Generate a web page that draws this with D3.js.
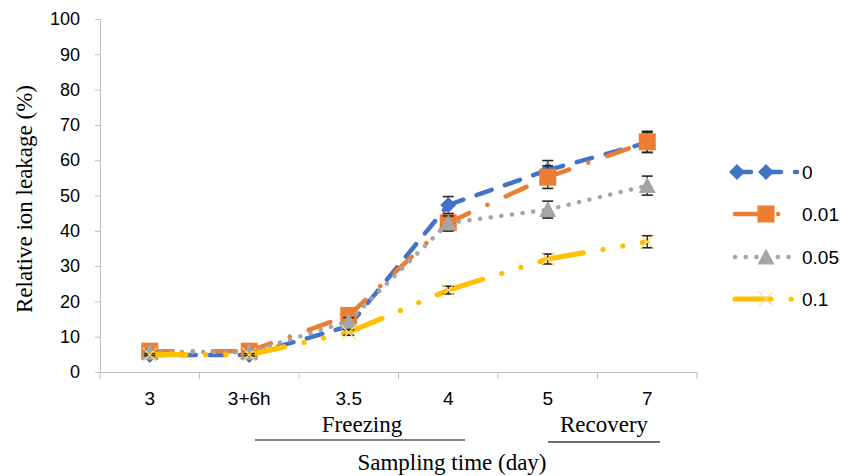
<!DOCTYPE html>
<html><head><meta charset="utf-8">
<script src="https://cdn.jsdelivr.net/npm/d3@7/dist/d3.min.js"></script>
<style>
html,body{margin:0;padding:0;background:#fff;}
svg{display:block;}
</style></head>
<body><svg id="chart" width="856" height="476"></svg>
<script>
// ---- data ----
const categories = ["3", "3+6h", "3.5", "4", "5", "7"];
const seriesNames = ["0", "0.01", "0.05", "0.1"];
const values0   = [4.8, 4.8, 13.0, 47.3, 57.2, 65.0];
const values001 = [5.9, 5.9, 16.0, 42.3, 55.2, 65.2];
const values005 = [5.7, 5.6, 14.4, 42.2, 46.0, 52.8];
const values01  = [4.9, 4.9, 11.2, 23.2, 32.0, 36.9];
const err0   = [0.4, 0.4, 0.8, 2.4, 2.7, 2.8];
const err001 = [0.5, 0.5, 1.0, 2.4, 3.2, 3.0];
const err005 = [0.5, 0.5, 1.0, 2.0, 2.4, 2.7];
const err01  = [0.3, 0.3, 0.8, 1.1, 1.4, 1.7];
const yTicks = [0, 10, 20, 30, 40, 50, 60, 70, 80, 90, 100];

// ---- styles ----
const styles = [
  {color: "#4472C4", width: 4.5, dash: "16,14", marker: "diamond"},
  {color: "#ED7D31", width: 4.5, dash: "23,20,0.1,20", marker: "square"},
  {color: "#A5A5A5", width: 4.5, dash: "0.1,10.6", marker: "triangle"},
  {color: "#FFC000", width: 5.2, dash: "36,20,0.1,20,0.1,20", marker: "x"}
];
const allValues = [values0, values001, values005, values01];
const allErr = [err0, err001, err005, err01];

const svg = d3.select("#chart");
const x = d3.scaleBand().domain(categories).range([100, 697]).padding(0);
const y = d3.scaleLinear().domain([0, 100]).range([372, 19]);
const axisColor = "#BFBFBF";
const sansFont = "'Liberation Sans', Arial, sans-serif";
const serifFont = "'Liberation Serif', 'Times New Roman', serif";

// y axis
const gy = svg.append("g").attr("transform", "translate(100,0)")
  .call(d3.axisLeft(y).tickValues(yTicks).tickSize(5).tickPadding(15).tickSizeOuter(0));
gy.select(".domain").attr("stroke", axisColor);
gy.selectAll(".tick line").attr("stroke", axisColor);
gy.selectAll(".tick text").attr("font-family", sansFont).attr("font-size", 18).attr("fill", "#000");

// x axis
const gx = svg.append("g").attr("transform", "translate(0,372)")
  .call(d3.axisBottom(x).tickSize(0).tickPadding(19.5).tickSizeOuter(0));
gx.select(".domain").attr("stroke", axisColor);
gx.selectAll(".tick text").attr("font-family", sansFont).attr("font-size", 19).attr("fill", "#000");
const boundaries = categories.map(c => x(c)).concat([x.range()[1]]);
svg.append("g").selectAll("line").data(boundaries).join("line")
  .attr("x1", d => d).attr("x2", d => d).attr("y1", 372).attr("y2", 379)
  .attr("stroke", axisColor);

// y title
svg.append("text").attr("transform", "translate(32,199) rotate(-90)")
  .attr("text-anchor", "middle").attr("font-family", serifFont).attr("font-size", 23)
  .text("Relative ion leakage (%)");

// phase labels
svg.append("text").attr("x", 362).attr("y", 432).attr("text-anchor", "middle")
  .attr("font-family", serifFont).attr("font-size", 23).text("Freezing");
svg.append("line").attr("x1", 255).attr("x2", 465).attr("y1", 440).attr("y2", 440)
  .attr("stroke", "#595959").attr("stroke-width", 1.5);
svg.append("text").attr("x", 604).attr("y", 432).attr("text-anchor", "middle")
  .attr("font-family", serifFont).attr("font-size", 23).text("Recovery");
svg.append("line").attr("x1", 548).attr("x2", 660).attr("y1", 442).attr("y2", 442)
  .attr("stroke", "#6f6f6f").attr("stroke-width", 2);
svg.append("text").attr("x", 452).attr("y", 470).attr("text-anchor", "middle")
  .attr("font-family", serifFont).attr("font-size", 23).text("Sampling time (day)");

// marker drawing
function drawMarker(g, type, cx, cy, color) {
  if (type === "diamond") {
    const s = 8;
    g.append("path").attr("d", `M${cx},${cy - s}L${cx + s},${cy}L${cx},${cy + s}L${cx - s},${cy}Z`)
      .attr("fill", color);
  } else if (type === "square") {
    const s = 8.5;
    g.append("rect").attr("x", cx - s).attr("y", cy - s).attr("width", 2 * s).attr("height", 2 * s)
      .attr("fill", color);
  } else if (type === "triangle") {
    const s = 8.5;
    g.append("path").attr("d", `M${cx},${cy - s}L${cx + s},${cy + s - 1}L${cx - s},${cy + s - 1}Z`)
      .attr("fill", color);
  } else if (type === "x") {
    const s = 7;
    g.append("path").attr("d", `M${cx - s},${cy - s}L${cx + s},${cy + s}M${cx - s},${cy + s}L${cx + s},${cy - s}`)
      .attr("stroke", "#FFE08A").attr("stroke-width", 1.2).attr("fill", "none");
  }
}

const line = d3.line().x(d => d[0]).y(d => d[1]);
const plot = svg.append("g");
allValues.forEach((vals, si) => {
  const st = styles[si];
  const g = plot.append("g");
  const pts = vals.map((v, i) => [x(categories[i]) + x.bandwidth() / 2, y(v)]);
  for (let i = 0; i < pts.length - 1; i++) {
    g.append("path").attr("d", line([pts[i], pts[i + 1]]))
      .attr("fill", "none").attr("stroke", st.color).attr("stroke-width", st.width)
      .attr("stroke-dasharray", st.dash).attr("stroke-linecap", "round");
  }
  // error bars
  vals.forEach((v, i) => {
    const cx = pts[i][0], e = allErr[si][i];
    const y1 = y(v + e), y2 = y(v - e);
    g.append("line").attr("x1", cx).attr("x2", cx).attr("y1", y1).attr("y2", y2)
      .attr("stroke", "#262626").attr("stroke-width", 1.3);
    [y1, y2].forEach(yy => g.append("line").attr("x1", cx - 5.5).attr("x2", cx + 5.5)
      .attr("y1", yy).attr("y2", yy).attr("stroke", "#262626").attr("stroke-width", 1.6));
  });
  pts.forEach(p => drawMarker(g, st.marker, p[0], p[1], st.color));
});

// legend
const legendY = [172, 214, 257, 299];
seriesNames.forEach((name, si) => {
  const st = styles[si];
  const g = svg.append("g");
  const ly = legendY[si];
  g.append("path").attr("d", line([[735, ly], [797, ly]]))
    .attr("fill", "none").attr("stroke", st.color).attr("stroke-width", st.width)
    .attr("stroke-dasharray", st.dash).attr("stroke-linecap", "round");
  if (st.marker === "diamond") drawMarker(g, "diamond", 737, ly, st.color);
  drawMarker(g, st.marker, 766, ly, st.color);
  g.append("text").attr("x", 802).attr("y", ly).attr("dy", "0.36em")
    .attr("font-family", sansFont).attr("font-size", 19).attr("fill", "#000").text(name);
});
</script>
</body></html>
